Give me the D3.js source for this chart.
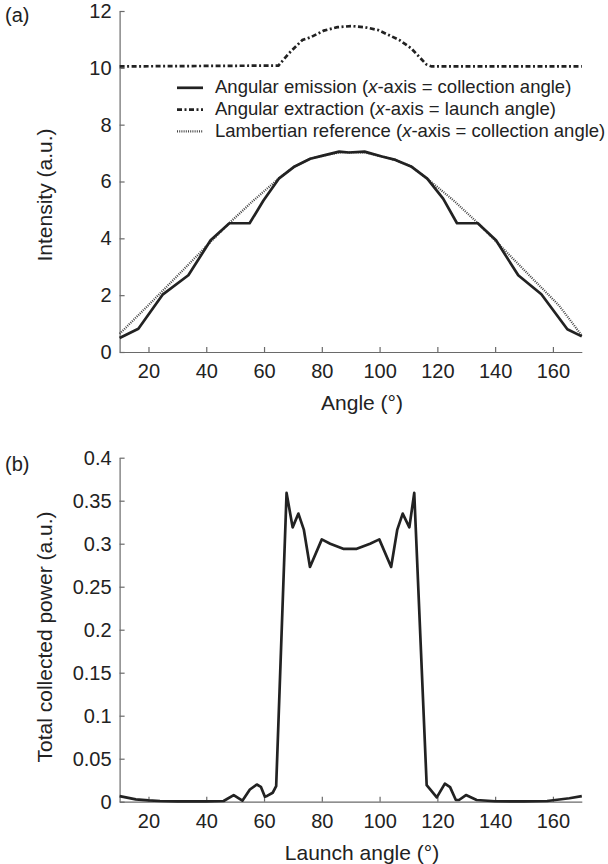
<!DOCTYPE html>
<html>
<head>
<meta charset="utf-8">
<script src="https://cdn.jsdelivr.net/npm/d3@7/dist/d3.min.js"></script>
<style>
  html, body { margin: 0; padding: 0; background: #fff; }
  svg { display: block; }
  text { font-family: "Liberation Sans", Arial, Helvetica, sans-serif; fill: #222; }
</style>
</head>
<body>
<svg id="chart" width="608" height="864"></svg>
<script>
// ---- Panel (a): angular profiles ----
const emissionAngle = [10, 16.5, 25, 33.8, 41.5, 48, 55, 59.8, 65.1, 70.6, 76, 80, 86, 89.4, 94.8, 100.8, 105.5, 110.9, 116.5, 122, 126.8, 134, 140.3, 148, 156, 165, 170];
const emissionValue = [0.49, 0.82, 2.03, 2.7, 3.93, 4.53, 4.53, 5.33, 6.1, 6.53, 6.8, 6.9, 7.05, 7.02, 7.05, 6.88, 6.76, 6.53, 6.1, 5.4, 4.53, 4.53, 3.93, 2.7, 2.03, 0.8, 0.55];

const extractionAngle = [10, 65, 68.6, 73.3, 76, 80.7, 85.4, 90.1, 94.8, 99.5, 106.8, 110.9, 116.2, 118, 170];
const extractionValue = [10.05, 10.08, 10.51, 10.98, 11.07, 11.31, 11.43, 11.47, 11.43, 11.33, 10.98, 10.69, 10.12, 10.05, 10.05];

const lambertAngle = [10, 20, 30, 40, 48, 56, 65, 70.6, 76, 80, 86, 89.4, 94.8, 100.8, 105.5, 110.9, 116.5, 126, 134, 142, 152, 162, 170];
const lambertValue = [0.64, 1.65, 2.68, 3.72, 4.54, 5.3, 6.1, 6.53, 6.8, 6.9, 7.02, 7.02, 7.02, 6.88, 6.76, 6.53, 6.1, 5.3, 4.54, 3.72, 2.68, 1.65, 0.58];

const ticksA_x = [20, 40, 60, 80, 100, 120, 140, 160];
const ticksA_y = [0, 2, 4, 6, 8, 10, 12];

const legendLabels = [
  ["Angular emission (", "x", "-axis = collection angle)"],
  ["Angular extraction (", "x", "-axis = launch angle)"],
  ["Lambertian reference (", "x", "-axis = collection angle)"]
];

// ---- Panel (b): total collected power vs launch angle ----
const launchAngle = [10, 15.6, 20, 24, 30, 40, 46, 49.5, 52.5, 55.1, 57.5, 58.9, 60.3, 61.2, 63, 64.2, 67.8, 69.9, 71.9, 73.8, 75.9, 80, 82.9, 87.4, 92.1, 96.7, 99.9, 104, 106.1, 108, 110.3, 112, 116.3, 119.8, 122.6, 124.4, 126.4, 127.5, 129.9, 133.6, 140, 150, 158, 165.7, 170];
const collectedPower = [0.0065, 0.0027, 0.0015, 0.0008, 0.0004, 0.0004, 0.0008, 0.0077, 0.0012, 0.0142, 0.020, 0.0173, 0.0058, 0.007, 0.0104, 0.018, 0.359, 0.319, 0.335, 0.316, 0.273, 0.305, 0.300, 0.294, 0.294, 0.300, 0.305, 0.273, 0.316, 0.335, 0.319, 0.359, 0.0192, 0.005, 0.021, 0.017, 0.002, 0.002, 0.0077, 0.002, 0.0005, 0.0004, 0.0008, 0.004, 0.0065];

const ticksB_x = [20, 40, 60, 80, 100, 120, 140, 160];
const ticksB_y = [0, 0.05, 0.1, 0.15, 0.2, 0.25, 0.3, 0.35, 0.4];

// ---- layout ----
const svg = d3.select("#chart");
svg.append("rect").attr("width", 608).attr("height", 864).attr("fill", "#fff");

const left = 119.6, right = 581.8;
const axisColor = "#6a6a6a";
const inkColor = "#222";

function styleAxis(g) {
  g.select(".domain").attr("stroke", axisColor).attr("stroke-width", 1.2);
  g.selectAll(".tick line").attr("stroke", axisColor).attr("stroke-width", 1.2);
  g.selectAll(".tick text").attr("font-size", 20).attr("fill", inkColor)
    .style("font-family", "'Liberation Sans', Arial, sans-serif");
}

function drawPanel(opts) {
  const x = d3.scaleLinear().domain([10, 170]).range([left, right]);
  const y = d3.scaleLinear().domain(opts.yDomain).range([opts.bottom, opts.top]);

  const gx = svg.append("g").attr("transform", `translate(0,${opts.bottom})`)
    .call(d3.axisBottom(x).tickValues(opts.xTicks).tickSizeInner(-5).tickSizeOuter(0).tickPadding(12).tickFormat(d3.format("d")));
  styleAxis(gx);

  const gy = svg.append("g").attr("transform", `translate(${left},0)`)
    .call(d3.axisLeft(y).tickValues(opts.yTicks).tickSizeInner(-5).tickSizeOuter(0).tickPadding(8).tickFormat(opts.yFormat));
  styleAxis(gy);

  svg.append("text").attr("x", 362).attr("y", opts.bottom + 58)
    .attr("text-anchor", "middle").attr("font-size", 21).text(opts.xTitle);
  svg.append("text")
    .attr("transform", `translate(52,${opts.yTitleCenter}) rotate(-90)`)
    .attr("text-anchor", "middle").attr("font-size", 21).text(opts.yTitle);
  svg.append("text").attr("x", 5).attr("y", opts.tagY)
    .attr("font-size", 20).text(opts.tag);

  return { x, y };
}

// Panel (a)
const A = drawPanel({
  top: 11, bottom: 352, yDomain: [0, 12],
  xTicks: ticksA_x, yTicks: ticksA_y, yFormat: d3.format("d"),
  xTitle: "Angle (°)", yTitle: "Intensity (a.u.)", yTitleCenter: 195,
  tag: "(a)", tagY: 22
});

const lineA = d3.line().x(d => A.x(d[0])).y(d => A.y(d[1]));

const dotDash = "1,1.2";
const dashDot = "5,2.5,2,2.5";

svg.append("path")
  .datum(lambertAngle.map((a, i) => [a, lambertValue[i]]))
  .attr("d", lineA).attr("fill", "none")
  .attr("stroke", "#444").attr("stroke-width", 2.2).attr("stroke-dasharray", dotDash);

svg.append("path")
  .datum(emissionAngle.map((a, i) => [a, emissionValue[i]]))
  .attr("d", lineA).attr("fill", "none")
  .attr("stroke", inkColor).attr("stroke-width", 2.7).attr("stroke-linejoin", "round");

svg.append("path")
  .datum(extractionAngle.map((a, i) => [a, extractionValue[i]]))
  .attr("d", lineA).attr("fill", "none")
  .attr("stroke", inkColor).attr("stroke-width", 2.7).attr("stroke-dasharray", dashDot);

// legend
const legendStyles = [
  { dash: null, width: 2.7, color: inkColor },
  { dash: dashDot, width: 2.7, color: inkColor },
  { dash: dotDash, width: 2.2, color: "#444" }
];
const legendBaselines = [93.3, 115.2, 136.8];
legendLabels.forEach((parts, i) => {
  const yy = legendBaselines[i];
  const st = legendStyles[i];
  const ln = svg.append("line").attr("x1", 177).attr("x2", 203).attr("y1", yy - 5.5).attr("y2", yy - 5.5)
    .attr("stroke", st.color).attr("stroke-width", st.width);
  if (st.dash) ln.attr("stroke-dasharray", st.dash);
  const t = svg.append("text").attr("x", 215).attr("y", yy).attr("font-size", 18.5);
  t.append("tspan").text(parts[0]);
  t.append("tspan").attr("font-style", "italic").text(parts[1]);
  t.append("tspan").text(parts[2]);
});

// Panel (b)
const B = drawPanel({
  top: 457.7, bottom: 801.7, yDomain: [0, 0.4],
  xTicks: ticksB_x, yTicks: ticksB_y, yFormat: d => String(+d.toFixed(2)),
  xTitle: "Launch angle (°)", yTitle: "Total collected power (a.u.)", yTitleCenter: 637,
  tag: "(b)", tagY: 471
});

const lineB = d3.line().x(d => B.x(d[0])).y(d => B.y(d[1]));
svg.append("path")
  .datum(launchAngle.map((a, i) => [a, collectedPower[i]]))
  .attr("d", lineB).attr("fill", "none")
  .attr("stroke", inkColor).attr("stroke-width", 2.7).attr("stroke-linejoin", "round");
</script>
</body>
</html>
